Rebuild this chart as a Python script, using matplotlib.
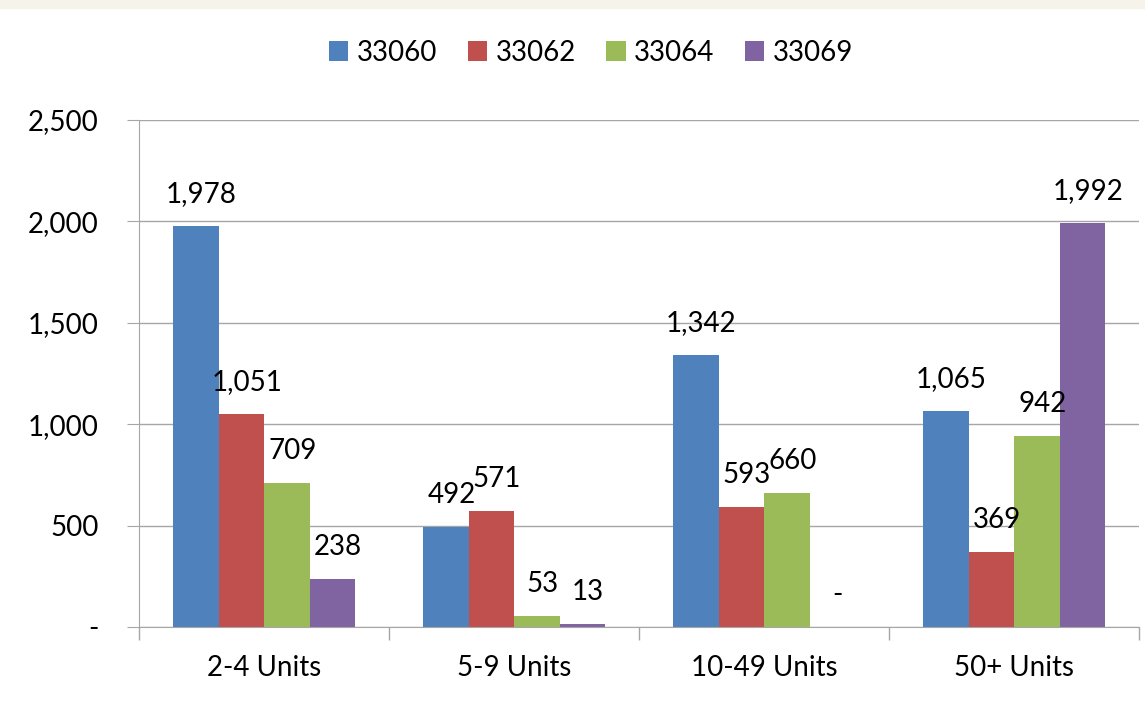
import numpy as np
import matplotlib.pyplot as plt
from matplotlib.patches import Rectangle
from matplotlib.ticker import FuncFormatter

categories = ['2-4 Units', '5-9 Units', '10-49 Units', '50+ Units']
series_names = ['33060', '33062', '33064', '33069']
v33060 = [1978, 492, 1342, 1065]
v33062 = [1051, 571, 593, 369]
v33064 = [709, 53, 660, 942]
v33069 = [238, 13, 0, 1992]
colors = ['#4F81BD', '#C0504D', '#9BBB59', '#8064A2']

plt.rcParams['font.family'] = ['Lato', 'DejaVu Sans']

fig = plt.figure(figsize=(11.45, 7.07), dpi=100)
fig.patches.append(Rectangle((0, 0.988), 1, 0.012, transform=fig.transFigure,
                             color='#F6F4EA', zorder=0))
ax = fig.add_axes([0.1214, 0.1132, 0.8734, 0.7171])

x = np.arange(len(categories))
w = 0.182
all_vals = [v33060, v33062, v33064, v33069]
for i, (name, vals) in enumerate(zip(series_names, all_vals)):
    pos = x - 1.5 * w + i * w
    ax.bar(pos, vals, width=w, color=colors[i], label=name, zorder=2)
    for p, v in zip(pos, vals):
        txt = f'{v:,}' if v else '-'
        ax.annotate(txt, (p, v), xytext=(4, 23), textcoords='offset points',
                    ha='center', va='center', fontsize=20)

ax.set_xlim(-0.5, 3.5)
ax.set_ylim(0, 2500)
ax.set_yticks(range(0, 2501, 500))
ax.yaxis.set_major_formatter(FuncFormatter(lambda v, p: f'{int(v):,}' if v else '-'))
ax.grid(axis='y', color='#A6A6A6', linewidth=1, zorder=0)
ax.set_xticks(x)
ax.set_xticklabels(categories)
ax.set_xticks(np.arange(-0.5, 4, 1), minor=True)
ax.tick_params(axis='x', which='major', length=0, labelsize=20, pad=20)
ax.tick_params(axis='x', which='minor', length=9, color='#A6A6A6', width=1)
ax.tick_params(axis='y', length=9, color='#A6A6A6', labelsize=20, pad=20)
for s in ['top', 'right']:
    ax.spines[s].set_visible(False)
for s in ['left', 'bottom']:
    ax.spines[s].set_color('#A6A6A6')

ax.legend(loc='center', bbox_to_anchor=(0.452, 1.133), ncol=4, frameon=False,
          fontsize=20, handlelength=0.7, handleheight=0.7, handletextpad=0.3,
          columnspacing=1.1)

fig.savefig('out.png', dpi=100)
